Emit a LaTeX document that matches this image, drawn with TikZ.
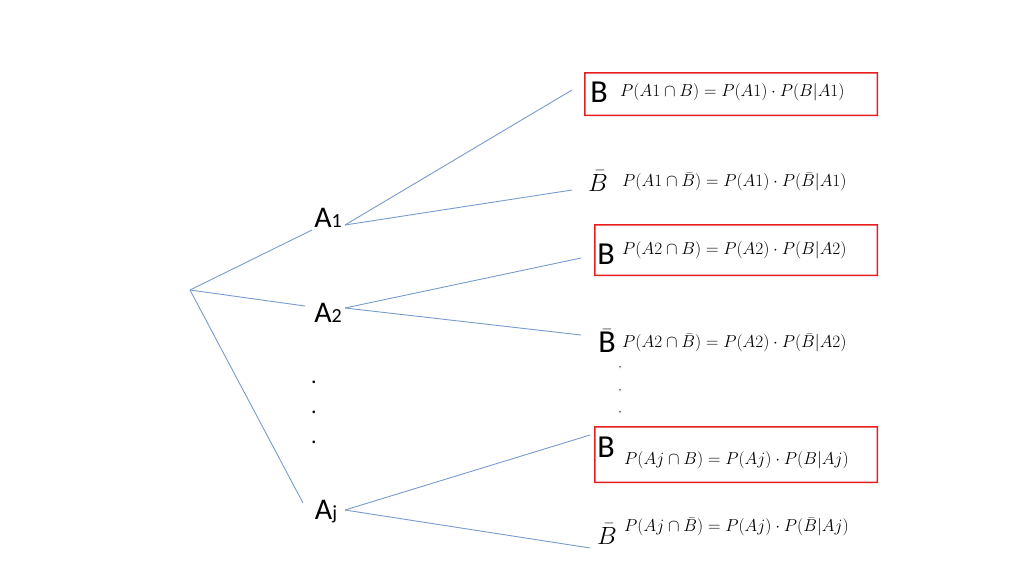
\documentclass[tikz,border=0pt]{standalone}
\usepackage{fontspec}
\setmainfont{Carlito}
\usepackage{amsmath}
\definecolor{lb}{RGB}{120,155,205}
\definecolor{rr}{RGB}{230,30,30}
\begin{document}
\begin{tikzpicture}[x=1pt,y=-1pt,
  br/.style={draw=lb,line width=0.9pt},
  big/.style={font=\fontsize{30}{30}\selectfont,inner sep=0},
  bb/.style={font=\fontsize{32}{32}\selectfont,inner sep=0},
  fm/.style={font=\fontsize{18.5}{18.5}\selectfont,inner sep=0,anchor=west},
  rbox/.style={fill=rr,even odd rule}]
\useasboundingbox (0,0) rectangle (1024,576);
\fill[rbox] (584,72) rectangle (878,116) (585.5,73.5) rectangle (876.5,114.5);
\fill[rbox] (594,224) rectangle (878,276) (595.5,225.5) rectangle (876.5,274.5);
\fill[rbox] (594,426) rectangle (878,483) (595.5,427.5) rectangle (876.5,481.5);
\coordinate (r) at (190,290);
\node[big] (a1) at (328,218) {A\fontsize{20}{20}\selectfont 1};
\node[big] (a2) at (328,313) {A\fontsize{20}{20}\selectfont 2};
\node[big] (aj) at (326,512) {A\fontsize{20}{20}\selectfont j};
\foreach \y/\n in {382/d1,412/d2,442/d3}{\node[inner sep=0,font=\fontsize{22}{22}\selectfont] (\n) at (314,\y) {.};}
\foreach \y/\n in {368/e1,391/e2,413/e3}{\node[inner sep=0,font=\fontsize{10}{10}\selectfont] (\n) at (620,\y) {,};}
\coordinate (a1r) at (345,225); \coordinate (a2r) at (345,308); \coordinate (ajr) at (345,510);
\coordinate (a1l) at (312,230); \coordinate (a2l) at (305,306); \coordinate (ajl) at (303,503);
\coordinate (t1) at (572,90); \coordinate (t2) at (572,190);
\coordinate (t3) at (581,258); \coordinate (t4) at (581,335);
\coordinate (t5) at (590,435); \coordinate (t6) at (590,548);
\draw[br] (r) -- (a1l); \draw[br] (r) -- (a2l); \draw[br] (r) -- (ajl);
\draw[br] (a1r) -- (t1); \draw[br] (a1r) -- (t2);
\draw[br] (a2r) -- (t3); \draw[br] (a2r) -- (t4);
\draw[br] (ajr) -- (t5); \draw[br] (ajr) -- (t6);
\node[bb] (l1) at (599,92) {B};
\node[bb] (l2) at (598,181) {$\bar B$};
\node[bb] (l3) at (606,254) {B};
\node[bb] (l4) at (607,341) {$\bar{\mathrm{B}}$};
\node[bb] (l5) at (606,447) {B};
\node[bb] (l6) at (607,534) {$\bar B$};
\node[fm] (f1) at (620,92) {$P(A1\cap B)=P(A1)\cdot P(B|A1)$};
\node[fm] (f2) at (622,182) {$P(A1\cap \bar B)=P(A1)\cdot P(\bar B|A1)$};
\node[fm] (f3) at (622,250) {$P(A2\cap B)=P(A2)\cdot P(B|A2)$};
\node[fm] (f4) at (622,343) {$P(A2\cap \bar B)=P(A2)\cdot P(\bar B|A2)$};
\node[fm] (f5) at (624,460) {$P(Aj\cap B)=P(Aj)\cdot P(B|Aj)$};
\node[fm] (f6) at (624,527) {$P(Aj\cap \bar B)=P(Aj)\cdot P(\bar B|Aj)$};
\end{tikzpicture}
\end{document}
